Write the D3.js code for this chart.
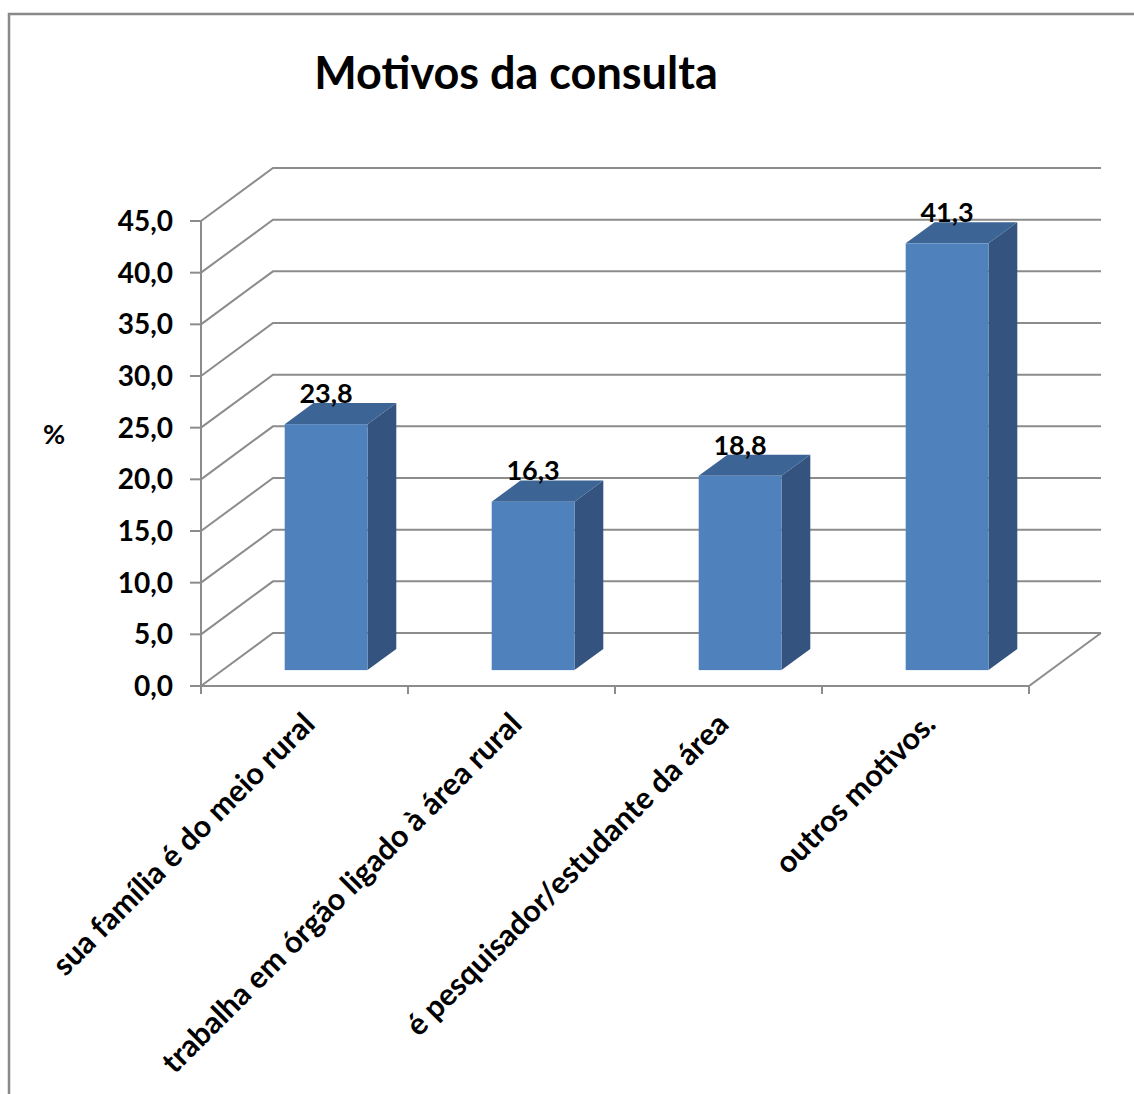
<!DOCTYPE html>
<html>
<head>
<meta charset="utf-8">
<script src="https://cdn.jsdelivr.net/npm/d3@7"></script>
<style>
  html, body { margin: 0; padding: 0; background: #fff; }
  svg { display: block; }
  text { font-family: Lato, "Open Sans", sans-serif; font-weight: 700; fill: #000; }
</style>
</head>
<body>
<svg id="chart" width="1134" height="1094"></svg>
<script>
// Data
const categories = [
  "sua família é do meio rural",
  "trabalha em órgão ligado à área rural",
  "é pesquisador/estudante da área",
  "outros motivos."
];
const values = [23.8, 16.3, 18.8, 41.3];
const yTicks = [0, 5, 10, 15, 20, 25, 30, 35, 40, 45];
const title = "Motivos da consulta";
const yLabel = "%";

const fmt = v => v.toFixed(1).replace(".", ",");

const svg = d3.select("#chart");

// Chart frame
svg.append("rect")
  .attr("x", 9).attr("y", 14)
  .attr("width", 1200).attr("height", 1200)
  .attr("fill", "#fff").attr("stroke", "#898989").attr("stroke-width", 2.5);

// Plot geometry: front floor edge plus oblique depth offset
const y = d3.scaleLinear().domain([0, 45]).range([686, 221]);
const x = d3.scaleBand().domain(categories).range([201, 1029])
  .paddingInner(0.6).paddingOuter(0.3);
const DX = 72, DY = -53;           // full depth of the plot box
const zFront = 0.3, zBack = 0.7;   // depth span of each column

const gridColor = "#8c8c8c";
const grid = svg.append("g").attr("fill", "none")
  .attr("stroke", gridColor).attr("stroke-width", 2);

// Side wall and back wall gridlines
yTicks.forEach(t => {
  const yy = y(t);
  grid.append("polyline")
    .attr("points", [[201, yy], [201 + DX, yy + DY], [1029 + DX, yy + DY]].map(p => p.join(",")).join(" "));
});
// Floor front and right edges
grid.append("polyline")
  .attr("points", [[201, y(0)], [1029, y(0)], [1029 + DX, y(0) + DY]].map(p => p.join(",")).join(" "));

// Value axis line and ticks
grid.append("line").attr("x1", 201).attr("x2", 201).attr("y1", y(45)).attr("y2", y(0));
yTicks.forEach(t => {
  grid.append("line").attr("x1", 190).attr("x2", 201).attr("y1", y(t)).attr("y2", y(t));
});
// Category boundary ticks
const step = x.step();
d3.range(categories.length + 1).forEach(i => {
  const xx = 201 + i * step;
  grid.append("line").attr("x1", xx).attr("x2", xx).attr("y1", y(0)).attr("y2", y(0) + 8);
});

// Tick labels
svg.append("g").selectAll("text").data(yTicks).join("text")
  .attr("x", 173).attr("y", d => y(d))
  .attr("dy", "0.36em")
  .attr("text-anchor", "end")
  .attr("font-size", 28)
  .text(d => fmt(d));

// Columns
const cFront = "#4f81bd", cSide = "#34547f", cTop = "#3c6494";
const bars = svg.append("g");
categories.forEach((c, i) => {
  const v = values[i];
  const x0 = x(c) + zFront * DX, x1 = x0 + x.bandwidth();
  const yb = y(0) + zFront * DY, yt = y(v) + zFront * DY;
  const ddx = (zBack - zFront) * DX, ddy = (zBack - zFront) * DY;
  const g = bars.append("g");
  g.append("polygon").attr("fill", cSide)
    .attr("points", [[x1, yt], [x1 + ddx, yt + ddy], [x1 + ddx, yb + ddy], [x1, yb]].map(p => p.join(",")).join(" "));
  g.append("polygon").attr("fill", cTop)
    .attr("points", [[x0, yt], [x0 + ddx, yt + ddy], [x1 + ddx, yt + ddy], [x1, yt]].map(p => p.join(",")).join(" "));
  g.append("rect").attr("fill", cFront)
    .attr("x", x0).attr("y", yt).attr("width", x1 - x0).attr("height", yb - yt);
  // value label
  g.append("text")
    .attr("x", (x0 + x1) / 2)
    .attr("y", y(v) + zBack * DY)
    .attr("text-anchor", "middle")
    .attr("font-size", 27)
    .text(fmt(v));
});

// Category labels, rotated
svg.append("g").selectAll("text").data(categories).join("text")
  .attr("transform", d => `translate(${x(d) + x.bandwidth() / 2 + 12},${726}) rotate(-45)`)
  .attr("text-anchor", "end")
  .attr("font-size", 30.5)
  .text(d => d);

// Title
svg.append("text")
  .attr("x", 516).attr("y", 89)
  .attr("text-anchor", "middle")
  .attr("font-size", 45)
  .text(title);

// Value axis title
svg.append("text")
  .attr("x", 54).attr("y", 444)
  .attr("text-anchor", "middle")
  .attr("font-size", 27)
  .text(yLabel);
</script>
</body>
</html>
